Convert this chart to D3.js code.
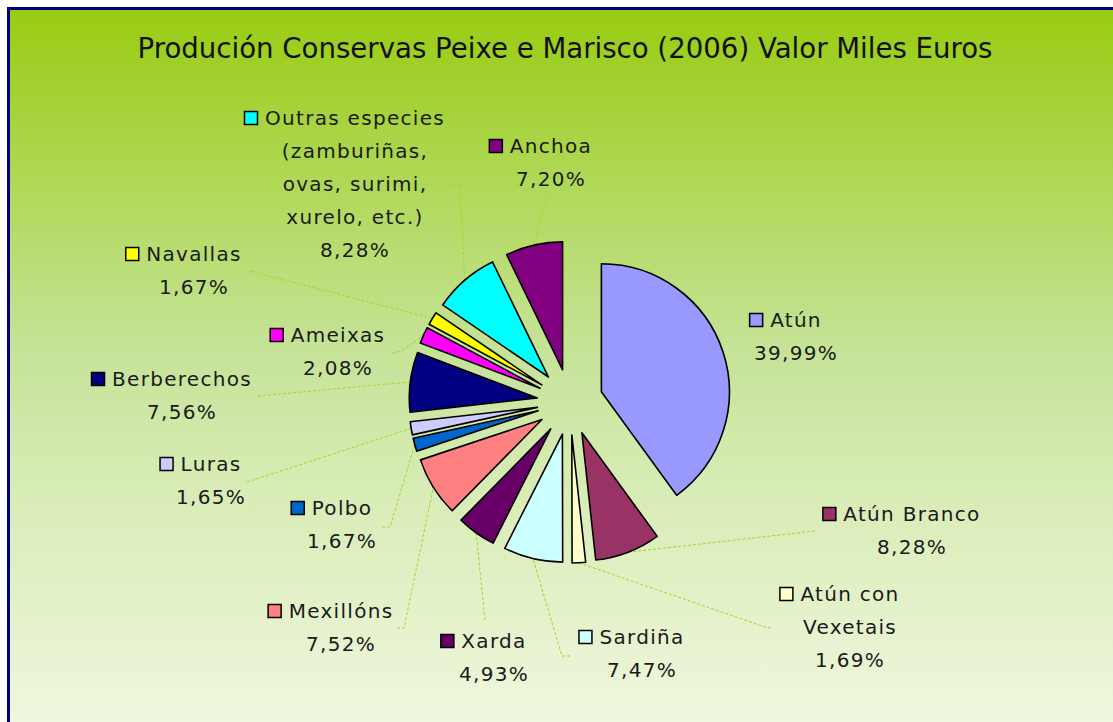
<!DOCTYPE html>
<html>
<head>
<meta charset="utf-8">
<script src="https://cdn.jsdelivr.net/npm/d3@7"></script>
<style>
  body { margin: 0; background: #fff; }
  svg { display: block; }
</style>
</head>
<body>
<div id="chart"></div>
<script>
const categories = [
  "Atún", "Atún Branco", "Atún con\nVexetais", "Sardiña", "Xarda", "Mexillóns",
  "Polbo", "Luras", "Berberechos", "Ameixas", "Navallas",
  "Outras especies\n(zamburiñas,\novas, surimi,\nxurelo, etc.)", "Anchoa"
];
const shares = [39.99, 8.28, 1.69, 7.47, 4.93, 7.52, 1.67, 1.65, 7.56, 2.08, 1.67, 8.28, 7.20];
const colors = [
  "#9999ff", "#993366", "#ffffcc", "#ccffff", "#660066", "#ff8080",
  "#0066cc", "#ccccff", "#000080", "#ff00ff", "#ffff00", "#00ffff", "#800080"
];

// label placement (centre x, centre y of first line) and leader line start points
const labelPos = [
  [796, 320], [912, 514], [850, 594], [642, 637], [494, 641], [341, 611],
  [342, 508], [211, 464], [182, 379], [338, 335], [194, 254], [355, 118], [551, 146]
];
const leaders = [
  null,
  [[815, 531]],
  [[771, 628], [765, 627]],
  [[570, 656], [562, 656]],
  [[485, 620]],
  [[397, 628], [404, 628]],
  [[382, 527], [390, 527]],
  [[247, 482]],
  [[258, 396]],
  [[392, 353], [402, 351]],
  [[250, 271]],
  [[452, 184], [460, 185]],
  [[546, 197]]
];

const width = 1113;
const height = 722;
const cx = 570, cy = 402;
const radius = 128;
const explode = 33;
const lineH = 33;

const svg = d3.select("#chart")
  .append("svg")
    .attr("width", width)
    .attr("height", height);

const grad = svg.append("defs").append("linearGradient")
    .attr("id", "bg")
    .attr("gradientUnits", "userSpaceOnUse")
    .attr("x1", 0).attr("y1", 10).attr("x2", 0).attr("y2", 722);
[[0, "#99cc11"], [0.16, "#a8d440"], [0.48, "#c6e398"], [0.65, "#d6ebb2"], [1, "#eff7de"]]
  .forEach(([o, c]) => grad.append("stop").attr("offset", o).attr("stop-color", c));

svg.append("rect")
    .attr("x", 8.5).attr("y", 8.5)
    .attr("width", width + 20).attr("height", height + 20)
    .attr("fill", "url(#bg)")
    .attr("stroke", "#000080")
    .attr("stroke-width", 3);

svg.append("text")
    .attr("x", 565)
    .attr("y", 58)
    .attr("text-anchor", "middle")
    .attr("textLength", 855)
    .attr("lengthAdjust", "spacingAndGlyphs")
    .style("font-family", "'DejaVu Sans', sans-serif")
    .style("font-size", "29px")
    .style("fill", "#111")
    .text("Produción Conservas Peixe e Marisco (2006) Valor Miles Euros");

const pie = d3.pie().sort(null).value(d => d);
const arcs = pie(shares);
const arc = d3.arc().innerRadius(0).outerRadius(radius);

const fmt = v => d3.format(".2f")(v).replace(".", ",") + "%";

function offset(a, dist) {
  const mid = (a.startAngle + a.endAngle) / 2;
  return [dist * Math.sin(mid), -dist * Math.cos(mid)];
}

// leader lines
const lineGen = d3.line();
arcs.forEach((a, i) => {
  if (!leaders[i]) return;
  const [ox, oy] = offset(a, explode + radius);
  const pts = leaders[i].concat([[cx + ox, cy + oy]]);
  svg.append("path")
      .attr("d", lineGen(pts))
      .attr("fill", "none")
      .attr("stroke", "#a6d622")
      .attr("stroke-width", 1)
      .attr("stroke-dasharray", "3,2");
});

// slices
svg.append("g")
    .attr("transform", `translate(${cx},${cy})`)
  .selectAll("path")
  .data(arcs)
  .join("path")
    .attr("transform", d => `translate(${offset(d, explode)})`)
    .attr("d", arc)
    .attr("fill", (d, i) => colors[i])
    .attr("stroke", "#000")
    .attr("stroke-width", 1.6)
    .attr("stroke-linejoin", "round");

// labels
arcs.forEach((a, i) => {
  const [lx, ly] = labelPos[i];
  const lines = categories[i].split("\n").concat([fmt(shares[i])]);
  const g = svg.append("g");
  let first;
  lines.forEach((t, k) => {
    const tx = g.append("text")
        .attr("x", lx)
        .attr("y", ly + k * lineH + 7)
        .attr("text-anchor", "middle")
        .style("font-family", "'DejaVu Sans', sans-serif")
        .style("font-size", "20px")
        .style("letter-spacing", "1.3px")
        .style("fill", "#1a1a1a")
        .text(t);
    if (k === 0) first = tx;
  });
  const w = first.node().getComputedTextLength();
  g.append("rect")
      .attr("x", lx - w / 2 - 20.5)
      .attr("y", ly - 6.5)
      .attr("width", 13)
      .attr("height", 13)
      .attr("fill", colors[i])
      .attr("stroke", "#000")
      .attr("stroke-width", 1.5);
});
</script>
</body>
</html>
